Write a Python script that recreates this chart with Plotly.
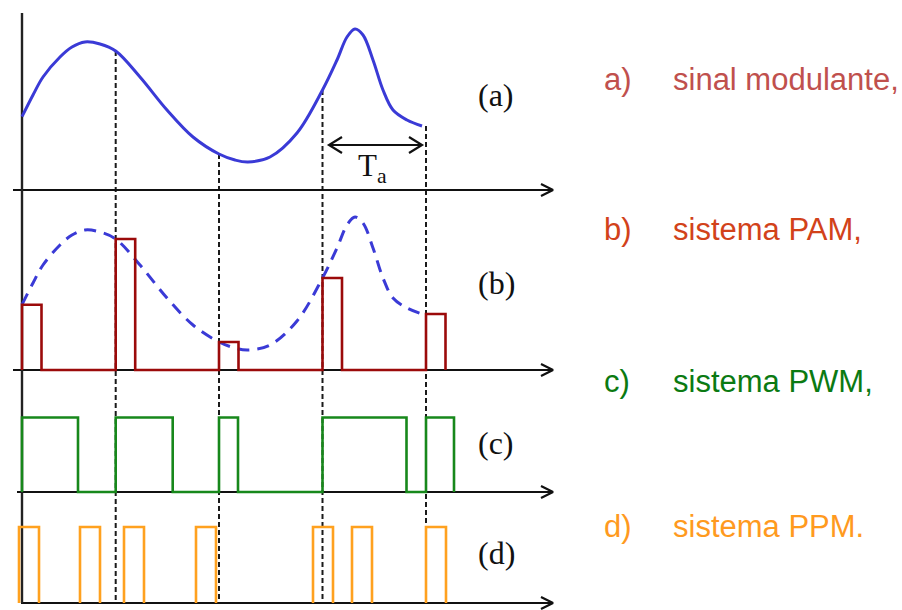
import plotly.graph_objects as go

# ---------------- data (time in sample-ish units, amplitude in signal units) ----------------
# modulating signal
t_sig = [0.00, 0.11, 0.21, 0.38, 0.50, 0.63, 0.78, 0.937, 1.18, 1.45, 1.71, 1.97, 2.13, 2.26,
         2.48, 2.75, 3.005, 3.15, 3.25, 3.33, 3.41, 3.51, 3.61, 3.71, 3.85, 4.00]
v_sig = [0.733, 0.95, 1.13, 1.33, 1.43, 1.48, 1.46, 1.39, 1.13, 0.80, 0.53, 0.36, 0.30, 0.28,
         0.33, 0.57, 1.00, 1.30, 1.53, 1.61, 1.55, 1.30, 1.00, 0.80, 0.70, 0.64]

# sampling instants and sampled values
t_samp = [0.00, 0.937, 1.97, 3.005, 4.04]
v_samp = [0.733, 1.39, 0.36, 1.00, 0.64]

# PWM pulse widths (one per sample)
pwm_width = [0.56, 0.57, 0.19, 0.84, 0.28]
# PPM pulse start times
ppm_start = [-0.03, 0.58, 1.02, 1.74, 2.91, 3.30, 4.04]

# texts
panel_labels = ["(a)", "(b)", "(c)", "(d)"]
legend_keys = ["a)", "b)", "c)", "d)"]
legend_texts = ["sinal modulante,", "sistema PAM,", "sistema PWM,", "sistema PPM."]

# ---------------- layout constants ----------------
BASE = [4.20, 2.40, 1.18, 0.07]        # baselines of panels a,b,c,d
B_OFF = -0.08                          # signal offset in panel b
PAM_W = 0.195
PWM_H = 0.745
PPM_W = 0.20
PPM_H = 0.76
AX_END = 5.31
AX_START = [-0.09, -0.09, -0.05, -0.01]
LABEL_Y = [5.15, 3.27, 1.67, 0.57]
LEG_Y = [5.31, 3.81, 2.29, 0.84]
LEG_COL = ["#C0504D", "#D2421A", "#0B7A12", "#FF9A1E"]

C_BLUE = "#3A3AD6"
C_PAM = "#9B0A0A"
C_PWM = "#17881B"
C_PPM = "#FFA11F"

fig = go.Figure()

# dashed sampling lines
for ts, vs in zip(t_samp[1:], v_samp[1:]):
    fig.add_trace(go.Scatter(x=[ts, ts], y=[BASE[0] + vs, BASE[3]], mode="lines",
                             line=dict(color="#1a1a1a", width=2.0, dash="5px,3px"),
                             hoverinfo="skip"))

# axes (horizontal with open arrowheads)
for b, xs in zip(BASE, AX_START):
    fig.add_trace(go.Scatter(x=[xs, AX_END], y=[b, b], mode="lines",
                             line=dict(color="#111", width=2.2), hoverinfo="skip"))
    fig.add_trace(go.Scatter(x=[AX_END - 0.12, AX_END, AX_END - 0.12], y=[b + 0.06, b, b - 0.06],
                             mode="lines", line=dict(color="#111", width=2.2), hoverinfo="skip"))
# vertical axis
fig.add_trace(go.Scatter(x=[0, 0], y=[BASE[3], 5.97], mode="lines",
                         line=dict(color="#222", width=2.4), hoverinfo="skip"))

# (a) modulating signal
fig.add_trace(go.Scatter(x=t_sig, y=[BASE[0] + v for v in v_sig], mode="lines",
                         line=dict(color=C_BLUE, width=3, shape="spline", smoothing=1.0),
                         hoverinfo="skip"))

# T_a double arrow
ta0, ta1, ty = t_samp[3] + 0.065, t_samp[4] - 0.04, 4.65
fig.add_trace(go.Scatter(x=[ta0, ta1], y=[ty, ty], mode="lines",
                         line=dict(color="#111", width=2.2), hoverinfo="skip"))
for tip, d in [(ta0, 1), (ta1, -1)]:
    fig.add_trace(go.Scatter(x=[tip + d * 0.13, tip, tip + d * 0.13], y=[ty + 0.08, ty, ty - 0.08],
                             mode="lines", line=dict(color="#111", width=2.2), hoverinfo="skip"))

# (b) dashed signal + PAM
fig.add_trace(go.Scatter(x=t_sig, y=[BASE[1] + B_OFF + v for v in v_sig], mode="lines",
                         line=dict(color=C_BLUE, width=3, shape="spline", smoothing=1.0,
                                   dash="12px,8px"), hoverinfo="skip"))
px, py = [], []
for ts, vs in zip(t_samp, v_samp):
    top = BASE[1] + B_OFF + vs
    px += [ts, ts, ts + PAM_W, ts + PAM_W]
    py += [BASE[1], top, top, BASE[1]]
fig.add_trace(go.Scatter(x=px, y=py, mode="lines", line=dict(color=C_PAM, width=2.6),
                         hoverinfo="skip"))

# (c) PWM
cx, cy = [], []
for ts, w in zip(t_samp, pwm_width):
    top = BASE[2] + PWM_H
    cx += [ts, ts, ts + w, ts + w]
    cy += [BASE[2], top, top, BASE[2]]
fig.add_trace(go.Scatter(x=cx, y=cy, mode="lines", line=dict(color=C_PWM, width=2.6),
                         hoverinfo="skip"))

# (d) PPM
dx, dy = [], []
for s in ppm_start:
    top = BASE[3] + PPM_H
    dx += [s, s, s + PPM_W, s + PPM_W, None]
    dy += [BASE[3], top, top, BASE[3], None]
fig.add_trace(go.Scatter(x=dx, y=dy, mode="lines", line=dict(color=C_PPM, width=2.6),
                         hoverinfo="skip"))

annotations = []
for lab, y in zip(panel_labels, LABEL_Y):
    annotations.append(dict(x=4.74, y=y, text=lab, showarrow=False, xanchor="center",
                            yanchor="middle",
                            font=dict(family="Liberation Serif, Times New Roman, serif",
                                      size=32, color="#111")))
annotations.append(dict(x=3.50, y=4.42, text="T<sub>a</sub>", showarrow=False,
                        xanchor="center", yanchor="middle",
                        font=dict(family="Liberation Serif, Times New Roman, serif",
                                  size=31, color="#111")))
for k, txt, y, col in zip(legend_keys, legend_texts, LEG_Y, LEG_COL):
    annotations.append(dict(x=5.80, y=y, text=k, showarrow=False, xanchor="left",
                            yanchor="middle",
                            font=dict(family="Liberation Sans, Arial, sans-serif", size=31,
                                      color=col)))
    annotations.append(dict(x=6.49, y=y, text=txt, showarrow=False, xanchor="left",
                            yanchor="middle",
                            font=dict(family="Liberation Sans, Arial, sans-serif", size=31,
                                      color=col)))

fig.update_layout(width=902, height=610, margin=dict(l=0, r=0, t=0, b=0),
                  paper_bgcolor="white", plot_bgcolor="white", showlegend=False,
                  annotations=annotations,
                  xaxis=dict(range=[-0.22, 8.80], visible=False, fixedrange=True),
                  yaxis=dict(range=[0, 6.10], visible=False, fixedrange=True))

fig.write_html("out.html", config={"displayModeBar": False},
               post_script="document.body.style.margin='0px';document.body.style.overflow='hidden';")
